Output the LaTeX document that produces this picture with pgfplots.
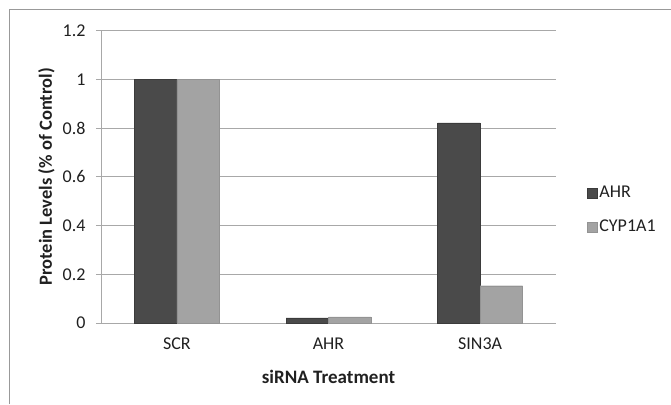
\documentclass[border=0pt]{standalone}
\usepackage{pgfplots}
\pgfplotsset{compat=1.18}
\usepackage{fontspec}
\setmainfont{Carlito}
\definecolor{darkbar}{HTML}{4A4A4A}
\definecolor{lightbar}{HTML}{A3A3A3}
\definecolor{gridc}{HTML}{A8A8A8}
\definecolor{txt}{HTML}{202020}
\begin{document}
\begin{tikzpicture}
\path[use as bounding box] (0pt,0pt) rectangle (671pt,404pt);
\draw[color=gray!80, line width=1.5pt] (9.5pt,0pt) -- (9.5pt,394.5pt) -- (671pt,394.5pt);
\begin{axis}[
  at={(101pt,81pt)}, anchor=south west,
  width=455pt, height=292.3pt, scale only axis,
  xmin=-0.5, xmax=2.5, ymin=0, ymax=1.2,
  ybar=0pt, bar width=42.5pt,
  xtick={0,1,2}, xticklabels={SCR,AHR,SIN3A},
  ytick={0,0.2,0.4,0.6,0.8,1,1.2},
  yticklabels={0,0.2,0.4,0.6,0.8,1,1.2},
  ymajorgrids, grid style={gridc, line width=1pt},
  axis x line*=bottom, axis y line*=left,
  axis line style={gridc, line width=1pt},
  x axis line style={-}, y axis line style={-},
  xtick style={draw=none},
  ytick style={gridc, line width=1pt},
  tick align=outside, major tick length=5pt,
  font=\fontsize{18}{21}\selectfont,
  ticklabel style={text=txt},
  yticklabel style={xshift=-7pt},
  xticklabel style={yshift=-6pt},
  xlabel={\bfseries siRNA Treatment},
  ylabel={\bfseries Protein Levels (\% of Control)},
  every axis x label/.style={at={(axis description cs:0.5,-0.185)}, anchor=center,
    font=\fontsize{19}{22}\selectfont, text=txt},
  every axis y label/.style={at={(axis description cs:-0.1198,0.5)}, anchor=center, rotate=90,
    font=\fontsize{18.5}{22}\selectfont, text=txt},
  legend style={at={(1.061,0.387)}, anchor=west, draw=none, fill=none,
    font=\fontsize{18}{21}\selectfont, row sep=17pt, text=txt},
  legend cell align=left,
  legend image code/.code={\fill[#1] (-2pt,-5pt) rectangle (8pt,5pt);},
]
\addplot[fill=darkbar, draw=darkbar!80!black] coordinates {(0,1.0) (1,0.021) (2,0.822)};
\addplot[fill=lightbar, draw=lightbar!90!black] coordinates {(0,1.0) (1,0.025) (2,0.153)};
\legend{AHR,CYP1A1}
\end{axis}
\end{tikzpicture}
\end{document}
